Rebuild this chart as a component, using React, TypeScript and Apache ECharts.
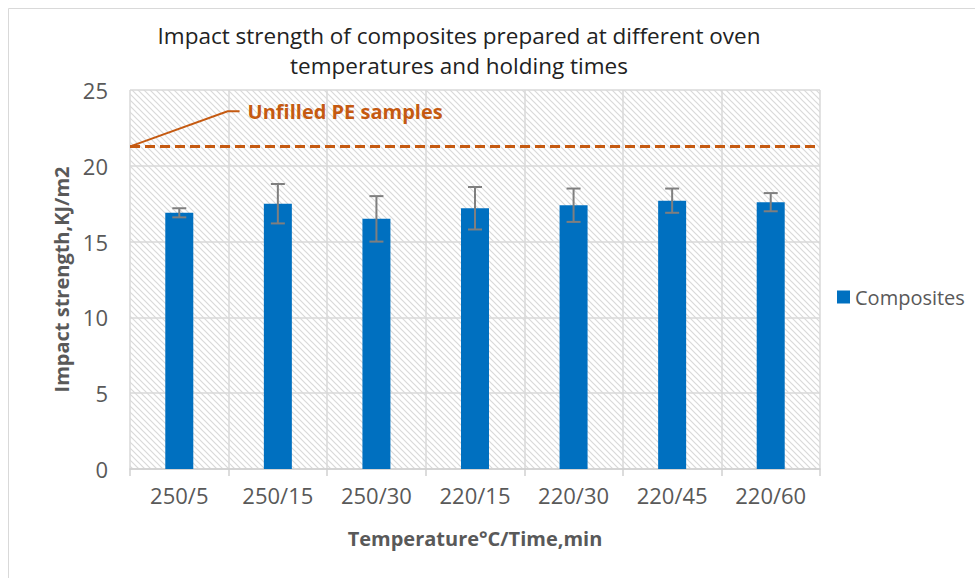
import React, { useEffect, useRef } from "react";
import * as echarts from "echarts";

const categories = ["250/5", "250/15", "250/30", "220/15", "220/30", "220/45", "220/60"];
const strength = [16.9, 17.5, 16.5, 17.2, 17.4, 17.7, 17.6];
const errorLow = [16.6, 16.2, 15.0, 15.8, 16.3, 16.9, 17.0];
const errorHigh = [17.2, 18.8, 18.0, 18.6, 18.5, 18.5, 18.2];
const unfilledPE = 21.3;
const labelAnchor = { catOffset: 0.49, value: 23.6 };
const yTicks = { min: 0, max: 25, interval: 5 };

const FONT = "'Open Sans', 'Noto Sans', sans-serif";
const GRAY = "#595959";
const ORANGE = "#C55A11";

function makeHatch() {
  const c = document.createElement("canvas");
  const s = 6;
  c.width = s;
  c.height = s;
  const ctx = c.getContext("2d")!;
  ctx.fillStyle = "#ffffff";
  ctx.fillRect(0, 0, s, s);
  ctx.strokeStyle = "#d9d9d9";
  ctx.lineWidth = 1.2;
  ctx.beginPath();
  ctx.moveTo(-1, -1);
  ctx.lineTo(s + 1, s + 1);
  ctx.moveTo(-1, s - 1);
  ctx.lineTo(1, s + 1);
  ctx.moveTo(s - 1, -1);
  ctx.lineTo(s + 1, 1);
  ctx.stroke();
  return c;
}

export default function App() {
  const ref = useRef<HTMLDivElement>(null);
  useEffect(() => {
    if (!ref.current) return;
    const chart = echarts.init(ref.current, null, { renderer: "svg" });
    const hatch = makeHatch();
    chart.setOption({
      animation: false,
      textStyle: { fontFamily: FONT },
      title: {
        text: "Impact strength of composites prepared at different oven\ntemperatures and holding times",
        left: 454,
        textAlign: "center",
        top: 15,
        textStyle: { fontFamily: FONT, fontSize: 22.5, fontWeight: "normal", color: "#222", lineHeight: 30 },
      },
      graphic: [
        {
          type: "rect",
          shape: { x: 8.5, y: 8.5, width: 1000, height: 1000 },
          style: { fill: "none", stroke: "#d9d9d9", lineWidth: 1 },
          silent: true,
          z: -10,
        },
      ],
      legend: {
        data: [{ name: "Composites", icon: "rect" }],
        orient: "vertical",
        left: 832,
        top: 282,
        itemWidth: 13,
        itemHeight: 13,
        itemGap: 6,
        textStyle: { fontFamily: FONT, fontSize: 20, color: GRAY },
      },
      grid: {
        left: 130,
        right: 155,
        top: 90,
        bottom: 109,
        show: true,
        backgroundColor: { image: hatch, repeat: "repeat" },
        borderWidth: 0,
      },
      xAxis: {
        type: "category",
        data: categories,
        name: "Temperature°C/Time,min",
        nameLocation: "middle",
        nameGap: 59,
        nameTextStyle: { fontFamily: FONT, fontSize: 20, fontWeight: "bold", color: GRAY },
        axisLine: { lineStyle: { color: "#d0d0d0", width: 1.5 } },
        axisTick: { show: true, length: 7, lineStyle: { color: "#d0d0d0", width: 1.5 } },
        axisLabel: { fontFamily: FONT, fontSize: 22, color: GRAY, margin: 15 },
        splitLine: { show: true, lineStyle: { color: "#d9d9d9", width: 1.5 } },
      },
      yAxis: {
        type: "value",
        min: yTicks.min,
        max: yTicks.max,
        interval: yTicks.interval,
        name: "Impact strength,KJ/m2",
        nameLocation: "middle",
        nameGap: 52,
        nameTextStyle: { fontFamily: FONT, fontSize: 20, fontWeight: "bold", color: GRAY },
        axisLine: { show: false },
        axisTick: { show: false },
        axisLabel: { fontFamily: FONT, fontSize: 22, color: GRAY, margin: 22 },
        splitLine: { show: true, lineStyle: { color: "#d9d9d9", width: 1.5 } },
      },
      series: [
        {
          name: "Composites",
          type: "bar",
          data: strength,
          barWidth: 28,
          itemStyle: { color: "#0070C0" },
          markLine: {
            silent: true,
            symbol: "none",
            label: { show: false },
            lineStyle: { color: ORANGE, width: 3, type: [10, 5] },
            data: [{ yAxis: unfilledPE }],
          },
          z: 2,
        },
        {
          name: "errors",
          type: "custom",
          data: categories.map((_, i) => [i, errorLow[i], errorHigh[i]]),
          encode: { x: 0, y: [1, 2] },
          z: 5,
          renderItem: (params: any, api: any) => {
            const i = api.value(0);
            const lo = api.coord([i, api.value(1)]);
            const hi = api.coord([i, api.value(2)]);
            const hw = 7;
            const style = { stroke: "#7f7f7f", lineWidth: 2 };
            return {
              type: "group",
              children: [
                { type: "line", shape: { x1: lo[0], y1: lo[1], x2: hi[0], y2: hi[1] }, style },
                { type: "line", shape: { x1: hi[0] - hw, y1: hi[1], x2: hi[0] + hw, y2: hi[1] }, style },
                { type: "line", shape: { x1: lo[0] - hw, y1: lo[1], x2: lo[0] + hw, y2: lo[1] }, style },
              ],
            };
          },
        },
        {
          name: "annotation",
          type: "custom",
          data: [[0, unfilledPE, labelAnchor.value]],
          z: 6,
          silent: true,
          renderItem: (params: any, api: any) => {
            const base = api.coord([0, api.value(1)]);
            const band = api.size([1, 0])[0];
            const leftEdge = base[0] - band / 2;
            const top = api.coord([0, api.value(2)]);
            const kneeX = base[0] + labelAnchor.catOffset * band;
            const endX = kneeX + 12;
            return {
              type: "group",
              children: [
                {
                  type: "polyline",
                  shape: { points: [[leftEdge + 1, base[1]], [kneeX, top[1]], [endX, top[1]]] },
                  style: { stroke: ORANGE, lineWidth: 2, fill: "none" },
                },
                {
                  type: "text",
                  x: endX + 8,
                  y: top[1],
                  style: {
                    text: "Unfilled PE samples",
                    fill: ORANGE,
                    font: `bold 20px ${FONT}`,
                    textVerticalAlign: "middle",
                    verticalAlign: "middle",
                  },
                },
              ],
            };
          },
        },
      ],
    });
    return () => chart.dispose();
  }, []);
  return (
    <div
      ref={ref}
      style={{ position: "fixed", left: 0, top: 0, width: 975, height: 578, background: "#fff" }}
    />
  );
}
